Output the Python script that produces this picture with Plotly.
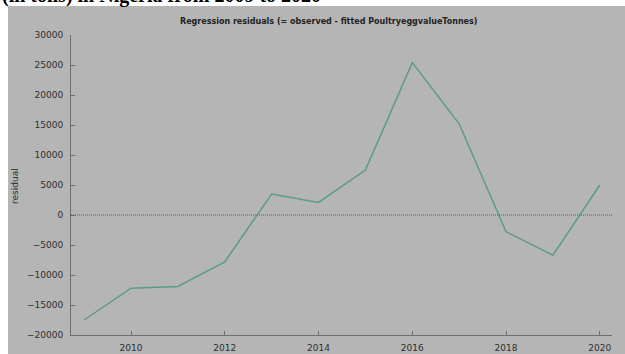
import plotly.graph_objects as go

# Regression residuals by year
years = [2009, 2010, 2011, 2012, 2013, 2014, 2015, 2016, 2017, 2018, 2019, 2020]
residuals = [-17500, -12200, -11900, -7800, 3500, 2100, 7500, 25400, 15200, -2800, -6700, 5000]

y_ticks = [-20000, -15000, -10000, -5000, 0, 5000, 10000, 15000, 20000, 25000, 30000]
y_tick_text = ["\u221220000", "\u221215000", "\u221210000", "\u22125000", "0",
               "5000", "10000", "15000", "20000", "25000", "30000"]
x_ticks = [2010, 2012, 2014, 2016, 2018, 2020]
x_tick_text = ["2010", "2012", "2014", "2016", "2018", "2020"]

W, H = 625, 354
L, R, T, B = 71, 13, 35, 19          # plot-area margins in px
PW, PH = W - L - R, H - T - B

def px_x(p):
    return (p - L) / PW

def px_y(p):
    return (H - B - p) / PH

panel_gray = "#b5b5b5"
axis_col = "#6e6e6e"
text_col = "#2e2e2e"

fig = go.Figure()
fig.add_trace(go.Scatter(
    x=years, y=residuals, mode="lines",
    line=dict(color="#5c9c86", width=1.5),
    hoverinfo="skip", showlegend=False,
))

# zero reference line
fig.add_hline(y=0, line=dict(color="#5a5a5a", width=1, dash="1px,1px"))

# gray canvas behind the plot
fig.add_shape(type="rect", xref="paper", yref="paper",
              x0=px_x(8), x1=px_x(625), y0=px_y(354), y1=px_y(6),
              fillcolor=panel_gray, line=dict(width=0), layer="below")

fig.add_annotation(
    text="(in tons) in Nigeria from 2009 to 2020",
    xref="paper", yref="paper", x=px_x(0), y=px_y(-5),
    xanchor="left", yanchor="middle", showarrow=False,
    font=dict(family="Liberation Serif", size=20, color="black", weight="bold"),
)

fig.add_annotation(
    text="Regression residuals (= observed - fitted PoultryeggvalueTonnes)",
    xref="paper", yref="paper", x=px_x(328), y=px_y(21),
    xanchor="center", yanchor="middle", showarrow=False,
    font=dict(family="DejaVu Sans", size=8, color="#222222", weight="bold"),
)

fig.add_annotation(
    text="residual", textangle=-90,
    xref="paper", yref="paper", x=px_x(15), y=px_y(186),
    xanchor="center", yanchor="middle", showarrow=False,
    font=dict(family="DejaVu Sans", size=9, color=text_col),
)

fig.update_xaxes(
    range=[2008.72, 2020.26], tickvals=x_ticks, ticktext=x_tick_text,
    ticks="inside", ticklen=4, tickcolor=axis_col, ticklabelstandoff=4,
    showline=True, linecolor=axis_col, linewidth=1, automargin=False,
    showgrid=False, zeroline=False,
    tickfont=dict(family="DejaVu Sans", size=9, color=text_col),
)
fig.update_yaxes(
    range=[-20000, 30000], tickvals=y_ticks, ticktext=y_tick_text,
    ticks="inside", ticklen=4, tickcolor=axis_col, ticklabelstandoff=5,
    showline=True, linecolor=axis_col, linewidth=1, automargin=False,
    showgrid=False, zeroline=False,
    tickfont=dict(family="DejaVu Sans", size=9, color=text_col),
)

fig.update_layout(
    width=W, height=H, autosize=False,
    margin=dict(l=L, r=R, t=T, b=B, pad=0),
    paper_bgcolor="white", plot_bgcolor="rgba(0,0,0,0)",
    showlegend=False,
)

fig.write_html("out.html")
